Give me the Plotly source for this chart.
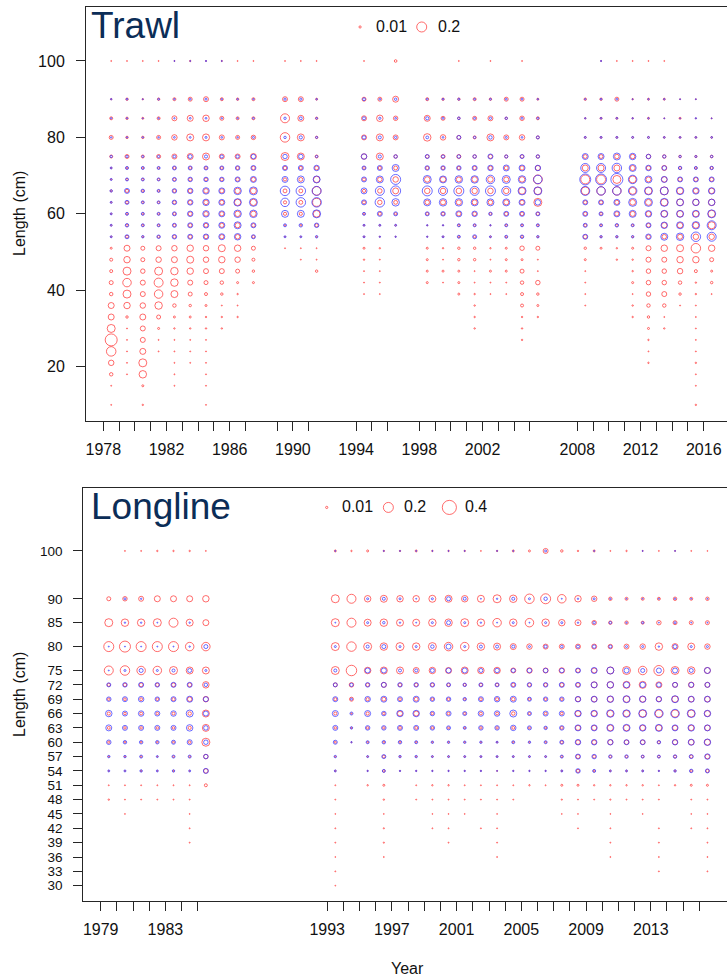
import plotly.graph_objects as go

# ---------------------------------------------------------------- data
# Trawl panel ---------------------------------------------------------
trawl_years = [1978, 1979, 1980, 1981, 1982, 1983, 1984, 1985, 1986, 1987,
               1989, 1990, 1991, 1994, 1995, 1996,
               1998, 1999, 2000, 2001, 2002, 2003, 2004, 2005,
               2008, 2009, 2010, 2011, 2012, 2013, 2014, 2015, 2016]
trawl_labelled_years = [1978, 1982, 1986, 1990, 1994, 1998, 2002, 2008, 2012, 2016]
trawl_y_ticks = [20, 40, 60, 80, 100]
trawl_red_lengths = [10, 15, 18, 21, 24, 27, 30, 33, 36, 39, 42, 45, 48, 51,
                     54, 57, 60, 63, 66, 69, 72, 75, 80, 85, 90, 100]
trawl_blue_lengths = [54, 57, 60, 63, 66, 69, 72, 75, 80, 85, 90, 100]

# proportions (x 0.001), one row per length bin, one column per year
trawl_red = [
    [2,0,4,0,0,0,2,0,0,0, 0,0,0, 0,0,0, 0,0,0,0,0,0,0,0, 0,0,0,0,0,0,0,4,0],
    [2,0,8,0,2,0,2,0,0,0, 0,0,0, 0,0,0, 0,0,0,0,0,0,0,0, 0,0,0,0,0,0,0,2,0],
    [24,2,112,0,2,0,2,0,0,0, 0,0,0, 0,0,0, 0,0,0,0,0,0,0,0, 0,0,0,0,0,0,0,2,0],
    [60,2,128,0,2,2,2,0,0,0, 0,0,0, 0,0,0, 0,0,0,0,0,0,0,0, 0,0,0,0,4,0,0,4,0],
    [180,2,72,2,2,2,2,0,0,0, 0,0,0, 0,0,0, 0,0,0,0,0,0,0,0, 0,0,0,0,2,0,0,2,0],
    [288,2,50,2,2,2,2,0,0,0, 0,0,0, 0,0,0, 0,0,0,0,0,0,4,0, 0,0,0,0,4,0,0,2,0],
    [128,2,50,8,4,4,4,4,0,0, 0,0,0, 0,0,0, 0,0,0,4,0,0,4,0, 0,0,0,0,8,4,0,2,0],
    [72,12,72,32,8,8,4,4,4,0, 0,0,0, 0,0,0, 0,0,0,4,0,0,4,4, 0,0,0,4,12,2,0,2,0],
    [72,84,60,112,24,12,8,2,2,0, 0,0,0, 0,0,0, 0,0,0,4,0,0,18,8, 2,0,0,4,24,24,2,2,0],
    [24,128,50,144,98,32,18,12,4,0, 0,0,0, 2,2,0, 0,0,8,4,2,2,18,12, 2,0,0,2,40,50,12,4,2],
    [32,144,50,162,112,50,32,24,8,8, 0,0,0, 2,2,0, 8,2,8,2,2,2,24,40, 2,0,0,8,40,40,24,4,12],
    [18,128,40,128,112,84,50,50,32,12, 0,0,12, 2,2,0, 8,8,8,2,8,8,32,2, 2,0,0,4,40,40,60,18,8],
    [18,84,32,60,72,98,60,84,60,18, 0,2,2, 4,2,0, 8,2,12,12,2,8,8,2, 8,0,4,4,50,50,84,84,32],
    [8,72,32,50,60,84,60,98,84,32, 2,2,2, 8,4,0, 8,4,12,12,4,8,40,32, 12,8,4,8,50,84,98,180,84],
    [4,16,6,12,20,25,30,36,42,16, 2,2,4, 4,2,2, 2,4,8,12,4,8,12,6, 30,6,6,6,30,40,50,60,60],
    [4,12,9,9,16,25,30,36,50,25, 4,6,20, 4,4,4, 2,2,9,9,2,9,9,9, 16,9,12,9,30,60,60,70,100],
    [4,9,9,9,16,30,42,36,60,60, 20,20,90, 9,20,12, 16,20,36,30,12,25,25,20, 25,16,36,50,50,80,80,70,100],
    [4,16,9,9,20,30,42,36,80,80, 20,30,130, 20,40,30, 40,50,50,50,40,50,40,128, 25,25,36,64,70,98,90,80,84],
    [8,20,12,9,20,30,42,36,60,70, 30,30,150, 20,40,70, 60,60,60,60,60,60,90,110, 128,144,144,98,98,128,80,50,60],
    [4,9,9,9,16,20,20,20,25,36, 20,30,80, 20,40,60, 60,60,50,60,60,50,60,160, 160,160,128,98,50,60,30,30,30],
    [4,9,9,9,16,16,16,16,20,25, 25,20,30, 16,20,30, 20,20,20,25,30,30,36,50, 72,72,72,50,36,50,16,12,16],
    [18,32,18,32,50,72,98,50,50,72, 128,98,18, 60,98,24, 24,32,32,24,32,20,24,20, 30,30,40,40,40,24,14,10,14],
    [32,12,12,32,60,98,98,50,32,40, 180,98,12, 50,98,50, 112,60,32,18,98,50,60,18, 6,6,6,6,6,6,6,6,6],
    [18,12,8,18,50,72,84,32,18,18, 162,72,12, 50,84,40, 72,32,12,32,50,12,40,18, 4,8,8,4,8,2,8,2,2],
    [4,12,4,12,18,32,50,18,12,18, 50,50,8, 32,32,72, 18,12,12,18,12,32,32,8, 12,12,32,4,8,8,2,2,0],
    [2,2,2,2,2,4,2,3,2,2, 2,2,2, 2,0,14, 0,0,2,0,2,0,2,0, 0,2,2,2,2,2,0,0,0],
]
trawl_blue = [
    [8,32,12,24,40,50,60,72,84,32, 8,8,12, 8,4,4, 4,8,18,32,8,18,24,12, 50,12,12,12,60,98,112,180,162],
    [8,24,18,18,32,50,60,72,98,50, 18,24,40, 8,8,8, 4,4,18,18,4,18,18,18, 32,18,24,18,50,84,98,112,162],
    [8,18,18,18,32,60,84,72,112,112, 98,98,128, 18,50,32, 32,40,72,60,24,50,50,32, 50,32,72,98,84,98,98,98,128],
    [8,32,18,18,40,60,84,72,112,128, 144,180,180, 50,180,112, 98,112,112,98,98,98,72,60, 50,50,72,128,128,128,98,84,84],
    [12,50,24,18,40,60,84,72,112,128, 180,180,162, 72,162,200, 200,162,200,162,200,162,128,128, 162,144,144,144,128,128,112,84,84],
    [8,18,18,18,32,40,40,40,50,72, 72,98,98, 50,98,200, 128,98,112,112,144,128,112,144, 242,242,288,144,98,72,50,50,50],
    [8,18,18,18,32,32,32,32,40,50, 50,50,60, 32,50,98, 40,40,40,50,60,72,72,60, 162,162,180,98,60,40,24,18,24],
    [10,10,8,10,14,30,20,20,20,40, 40,40,10, 60,20,24, 32,20,24,24,50,20,32,24, 72,72,98,84,40,20,10,8,12],
    [4,4,4,4,6,6,8,6,4,8, 12,20,8, 24,18,10, 16,6,30,10,24,8,6,18, 8,8,8,8,8,6,6,6,6],
    [4,4,2,4,4,6,6,4,4,6, 12,16,6, 18,10,6, 20,8,14,8,10,12,8,8, 4,6,6,4,4,2,2,4,2],
    [4,6,2,6,4,6,8,4,4,4, 10,10,4, 16,6,12, 6,6,8,6,6,6,6,4, 4,6,6,2,4,4,2,2,0],
    [0,0,0,0,2,2,3,2,0,0, 0,0,0, 0,0,0, 0,0,0,0,0,0,0,0, 0,3,0,0,0,0,0,0,0],
]
trawl_legend_values = [0.01, 0.2]

# Longline panel ------------------------------------------------------
longline_years = [1979, 1980, 1981, 1982, 1983, 1984, 1985,
                  1993, 1994, 1995, 1996, 1997, 1998, 1999, 2000, 2001, 2002,
                  2003, 2004, 2005, 2006, 2007, 2008, 2009, 2010, 2011, 2012,
                  2013, 2014, 2015, 2016]
longline_labelled_years = [1979, 1983, 1993, 1997, 2001, 2005, 2009, 2013]
longline_y_ticks = [30, 33, 36, 39, 42, 45, 48, 51, 54, 57, 60, 63, 66, 69,
                    72, 75, 80, 85, 90, 100]
longline_red_lengths = [30, 33, 36, 39, 42, 45, 48, 51, 54, 57, 60, 63, 66, 69,
                        72, 75, 80, 85, 90, 100]
longline_blue_lengths = [54, 57, 60, 63, 66, 69, 72, 75, 80, 85, 90, 100]

longline_red = [
    [0,0,0,0,0,0,0, 1,0,0,0,0,0,0,0,0,0,0,0,0,0,0,0,0,0,0,0,0,0,0,0],
    [0,0,0,0,0,0,0, 2,0,0,0,0,0,0,0,0,0,0,0,0,0,0,0,0,0,0,0,2,0,0,2],
    [0,0,0,0,0,0,0, 1,0,0,2,0,0,0,0,0,0,2,0,0,0,0,0,0,2,0,0,2,0,0,2],
    [0,0,0,0,0,2,0, 2,0,0,3,0,0,0,2,0,0,2,0,0,0,0,0,0,2,0,0,2,0,0,2],
    [0,0,0,0,0,2,0, 2,0,0,3,0,0,2,2,0,2,2,0,0,0,0,2,0,2,0,0,2,0,2,2],
    [0,1,0,0,0,1,0, 1,0,0,1,0,0,1,1,1,0,1,0,0,0,1,1,0,1,0,1,0,0,1,1],
    [4,2,2,2,2,2,0, 2,0,0,4,0,2,2,2,2,2,2,2,0,0,3,2,2,3,2,2,2,0,2,2],
    [2,2,2,2,2,2,18, 2,0,4,8,0,2,4,4,2,2,2,2,4,2,8,8,4,4,4,4,2,4,8,8],
    [2,2,4,2,4,2,40, 4,0,2,12,2,2,2,2,2,2,2,2,2,2,4,20,8,4,4,4,2,6,12,20],
    [4,4,6,2,6,6,40, 4,0,4,16,4,4,4,4,4,4,4,4,4,4,8,30,20,12,12,12,12,16,20,40],
    [10,6,6,6,8,12,128, 8,2,6,8,8,6,4,4,4,4,4,6,4,6,16,40,40,50,40,40,16,50,60,70],
    [16,12,12,12,12,20,98, 12,4,12,12,16,16,12,8,6,12,12,16,8,8,16,50,50,70,70,60,70,50,60,60],
    [20,12,16,12,16,24,98, 18,4,20,12,50,50,12,14,10,16,16,24,10,14,14,60,60,80,80,100,110,110,100,70],
    [12,14,16,14,20,40,60, 18,32,20,30,16,30,14,14,10,16,20,24,12,14,14,50,60,70,80,70,50,80,60,60],
    [20,24,30,24,30,30,84, 32,40,24,50,24,24,24,20,16,20,20,24,24,24,30,32,72,84,98,98,72,50,60,50],
    [162,180,144,144,128,98,98, 128,220,84,98,98,72,84,72,98,84,84,50,60,50,60,32,50,98,128,144,200,128,112,72],
    [200,242,200,200,200,144,144, 128,180,128,112,128,112,128,144,144,112,98,72,60,50,50,50,50,40,50,60,112,72,98,60],
    [128,112,112,128,162,98,72, 128,162,98,112,98,98,112,112,128,112,144,112,144,112,84,72,40,24,24,18,40,32,32,32],
    [32,40,50,72,72,72,84, 128,162,84,98,84,84,98,98,84,98,128,112,180,200,144,84,60,24,18,18,18,24,18,24],
    [0,2,2,4,4,4,2, 8,4,8,4,4,8,4,4,4,2,4,8,8,50,12,4,8,2,4,2,2,2,2,1],
]
longline_blue = [
    [8,8,12,8,12,8,50, 8,0,4,18,4,4,4,4,4,4,2,4,4,4,8,40,18,8,8,8,4,12,24,32],
    [12,12,18,8,18,18,40, 12,0,8,32,12,12,8,8,8,8,8,8,8,8,18,50,40,24,24,18,18,24,32,60],
    [40,24,24,24,32,50,40, 32,4,18,24,24,18,12,12,12,12,8,18,12,18,32,60,60,60,50,50,24,60,72,84],
    [72,50,50,50,50,84,40, 50,12,40,40,50,50,40,32,18,40,40,60,32,24,40,72,72,98,98,84,98,72,84,72],
    [84,50,60,50,60,98,50, 72,18,72,40,84,84,40,50,32,60,60,98,32,50,50,84,84,112,112,128,144,144,128,84],
    [40,50,60,40,50,72,50, 50,8,60,72,50,72,40,40,24,50,60,72,32,40,40,60,72,84,98,84,60,98,72,72],
    [32,40,50,40,50,50,24, 32,24,40,50,40,40,40,32,24,32,32,50,40,40,50,50,72,84,72,60,40,50,50,50],
    [2,8,32,8,18,32,8, 18,0,50,50,18,18,32,50,50,32,40,32,40,40,40,50,72,98,50,32,50,50,32,72],
    [2,2,2,2,2,4,32, 8,0,18,32,8,8,24,50,8,18,18,18,8,18,12,18,24,18,8,8,4,32,8,8],
    [0,4,4,2,0,4,0, 2,0,8,12,4,2,8,32,8,4,2,8,2,8,8,4,12,12,4,8,2,8,2,2],
    [0,8,4,0,0,0,0, 0,0,8,18,8,2,8,32,18,2,4,18,8,24,2,4,8,4,2,2,2,4,2,2],
    [0,0,0,0,0,0,0, 2,0,0,2,2,2,2,2,2,0,2,2,0,8,0,0,2,0,0,2,0,2,0,0],
]
longline_legend_values = [0.01, 0.2, 0.4]

# ---------------------------------------------------------------- style
W, H = 727, 979
RED = "rgb(255,45,45)"
BLUE = "rgb(45,45,255)"
AXIS = "#262626"
FONT = "Liberation Sans, Arial, sans-serif"
TITLE_COL = "#0b2d57"
SIZEREF = 2 * 0.2 / 10 ** 2      # a proportion of 0.2 -> 10 px circle

for m, ys, ls in [(trawl_red, trawl_years, trawl_red_lengths),
                  (trawl_blue, trawl_years, trawl_blue_lengths),
                  (longline_red, longline_years, longline_red_lengths),
                  (longline_blue, longline_years, longline_blue_lengths)]:
    assert len(m) == len(ls)
    for r in m:
        assert len(r) == len(ys), (len(r), len(ys))


def bubbles(matrix, years, lengths, color, xa, ya):
    xs, ys, ss = [], [], []
    for li, row in enumerate(matrix):
        for yi, v in enumerate(row):
            if v > 0:
                xs.append(years[yi] + 0.5)
                ys.append(lengths[li])
                ss.append(v / 1000.0)
    return go.Scatter(
        x=xs, y=ys, mode="markers", xaxis=xa, yaxis=ya, showlegend=False,
        hoverinfo="skip",
        marker=dict(symbol="circle-open", size=ss, sizemode="area",
                    sizeref=SIZEREF, sizemin=0.45, color=color,
                    line=dict(width=1, color=color)))


fig = go.Figure()
fig.add_trace(bubbles(trawl_red, trawl_years, trawl_red_lengths, RED, "x", "y"))
fig.add_trace(bubbles(trawl_blue, trawl_years, trawl_blue_lengths, BLUE, "x", "y"))
fig.add_trace(bubbles(longline_red, longline_years, longline_red_lengths, RED, "x2", "y2"))
fig.add_trace(bubbles(longline_blue, longline_years, longline_blue_lengths, BLUE, "x2", "y2"))

# size legends (drawn with the same size scale)
fig.add_trace(go.Scatter(
    x=[1994.25, 1998.15], y=[108.9, 108.9], xaxis="x", yaxis="y",
    mode="markers", showlegend=False, hoverinfo="skip",
    marker=dict(symbol="circle-open", size=trawl_legend_values, sizemode="area",
                sizeref=SIZEREF, color=RED, line=dict(width=1, color=RED))))
fig.add_trace(go.Scatter(
    x=[1992.97, 1996.78, 2000.55], y=[109.1, 109.1, 109.1], xaxis="x2", yaxis="y2",
    mode="markers", showlegend=False, hoverinfo="skip",
    marker=dict(symbol="circle-open", size=longline_legend_values, sizemode="area",
                sizeref=SIZEREF, color=RED, line=dict(width=1, color=RED))))


def xaxis_cfg(domain, rng, years, labelled, anchor):
    return dict(domain=domain, range=rng, anchor=anchor, tickmode="array",
                tickvals=years,
                ticktext=[str(y) if y in labelled else "" for y in years],
                ticks="outside", ticklen=9, tickwidth=1, tickcolor=AXIS,
                showline=True, linecolor=AXIS, linewidth=1, mirror=True,
                showgrid=False, zeroline=False, ticklabelstandoff=5,
                tickfont=dict(family=FONT, size=16, color="#111"))


def yaxis_cfg(domain, rng, ticks, anchor, fsize):
    return dict(domain=domain, range=rng, anchor=anchor, tickmode="array",
                tickvals=ticks, ticktext=[str(t) for t in ticks],
                ticks="outside", ticklen=9, tickwidth=1, tickcolor=AXIS,
                showline=True, linecolor=AXIS, linewidth=1, mirror=False,
                showgrid=False, zeroline=False, ticklabelstandoff=8,
                tickfont=dict(family=FONT, size=fsize, color="#111"))


fig.update_layout(
    width=W, height=H, margin=dict(l=0, r=0, t=0, b=0),
    paper_bgcolor="white", plot_bgcolor="white",
    font=dict(family=FONT, color="#111"),
    xaxis=xaxis_cfg([86 / W, 1.0], [1976.905, 2017.47], trawl_years,
                    trawl_labelled_years, "y"),
    yaxis=yaxis_cfg([1 - 420.7 / H, 1 - 7.3 / H], [5.86, 114.05], trawl_y_ticks, "x", 16),
    xaxis2=xaxis_cfg([83.3 / W, 1.0], [1977.925, 2017.71], longline_years,
                     longline_labelled_years, "y2"),
    yaxis2=yaxis_cfg([1 - 901 / H, 1 - 488.3 / H], [26.8, 113.1], longline_y_ticks,
                     "x2", 13.5),
)


def ann(text, xp, yp, size, color="#111", xanchor="left", angle=0):
    fig.add_annotation(text=text, x=xp / W, y=1 - yp / H, xref="paper", yref="paper",
                       xanchor=xanchor, yanchor="middle", showarrow=False,
                       textangle=angle, font=dict(family=FONT, size=size, color=color))


ann("Trawl", 89, 25, 37, TITLE_COL)
ann("Longline", 89, 506, 37, TITLE_COL)
ann("0.01", 374, 27, 16)
ann("0.2", 436, 27, 16)
ann("0.01", 340, 507, 16)
ann("0.2", 402, 507, 16)
ann("0.4", 463, 507, 16)
ann("Length (cm)", 19, 214, 16, angle=-90, xanchor="center")
ann("Length (cm)", 19, 695, 16, angle=-90, xanchor="center")
ann("Year", 407, 968, 16, xanchor="center")

fig.write_html("out.html", config={"displayModeBar": False},
               post_script="document.body.style.margin='0';"
                           "document.body.style.overflow='hidden';")
